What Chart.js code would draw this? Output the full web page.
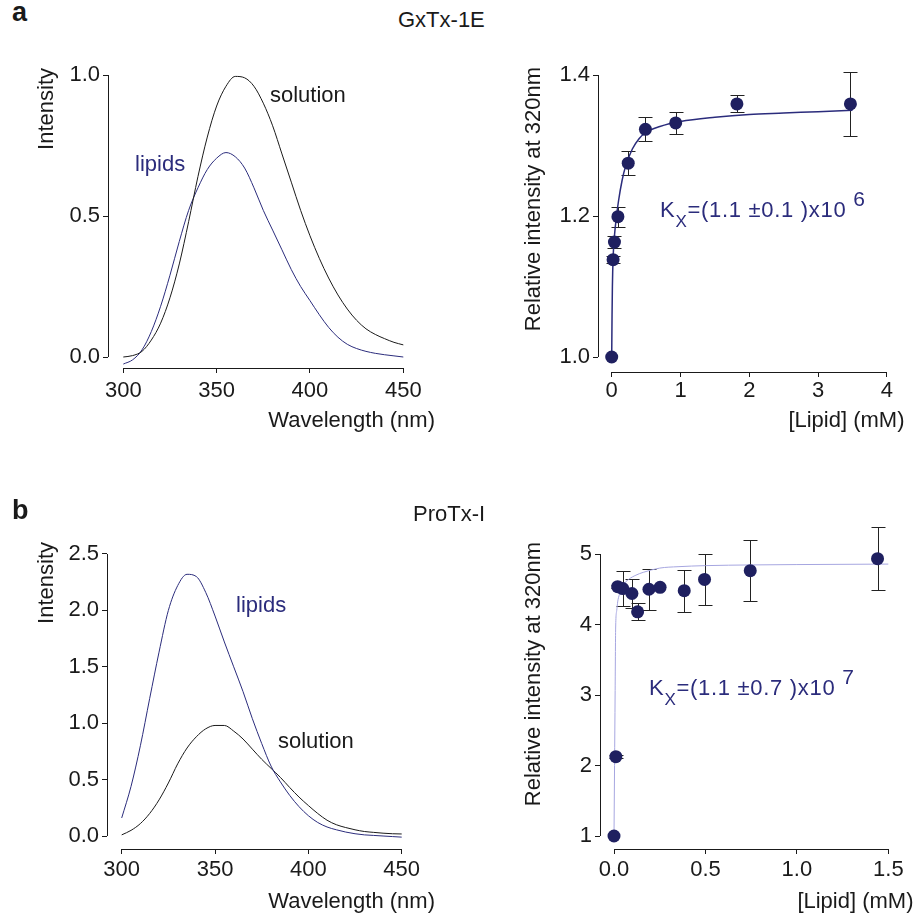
<!DOCTYPE html>
<html>
<head>
<meta charset="utf-8">
<title>GxTx-1E / ProTx-I lipid partitioning</title>
<script src="https://cdn.jsdelivr.net/npm/chart.js@4.4.1/dist/chart.umd.min.js"></script>
<style>
  html, body { margin: 0; padding: 0; background: #fff; }
  #fig { position: relative; width: 923px; height: 918px; overflow: hidden;
         font-family: "Liberation Sans", Arial, Helvetica, sans-serif; color: #1a1a1a; }
  #fig canvas { position: absolute; }
  .txt { position: absolute; font-size: 22px; line-height: 22px; white-space: nowrap; }
  .navy { color: #2b2c7c; }
  .kx { letter-spacing: 0.7px; }
  .panel { font-weight: bold; font-size: 27px; line-height: 27px; }
  .sub { font-size: 17px; position: relative; top: 10px; }
  .sup { font-size: 21px; position: relative; top: -11px; }
</style>
</head>
<body>
<div id="fig">
  <canvas id="gxSpec"></canvas>
  <canvas id="gxBind"></canvas>
  <canvas id="proSpec"></canvas>
  <canvas id="proBind"></canvas>

  <div class="txt panel" data-x="12" data-b="22">a</div>
  <div class="txt" data-x="398" data-b="28">GxTx-1E</div>
  <div class="txt" data-x="270" data-b="103">solution</div>
  <div class="txt navy" data-x="135" data-b="172">lipids</div>
  <div class="txt navy kx" data-x="660" data-b="218">K<span class="sub">X</span>=(1.1 ±0.1 )x10 <span class="sup">6</span></div>

  <div class="txt panel" data-x="12" data-b="520">b</div>
  <div class="txt" data-x="413" data-b="522">ProTx-I</div>
  <div class="txt navy" data-x="236" data-b="613">lipids</div>
  <div class="txt" data-x="278" data-b="749">solution</div>
  <div class="txt navy kx" data-x="649" data-b="696">K<span class="sub">X</span>=(1.1 ±0.7 )x10 <span class="sup">7</span></div>
</div>

<script>
'use strict';
/* ═══════════════════════════════════════════════
   Toxin fluorescence: emission spectra + lipid titration
   values
═══════════════════════════════════════════════ */

// emission spectra, sampled every 5 nm
const wavelength  = [300, 305, 310, 315, 320, 325, 330, 335, 340, 345, 350, 355, 360, 365, 370, 375,
                     380, 385, 390, 395, 400, 405, 410, 415, 420, 425, 430, 435, 440, 445, 450];
const gxSolution  = [0.00, 0.005, 0.02, 0.06, 0.12, 0.21, 0.33, 0.48, 0.64, 0.78, 0.89, 0.96, 0.995, 0.99, 0.96, 0.90,
                     0.82, 0.72, 0.62, 0.52, 0.43, 0.35, 0.28, 0.22, 0.17, 0.13, 0.10, 0.08, 0.065, 0.052, 0.043];
const gxLipids    = [-0.025, -0.01, 0.025, 0.09, 0.18, 0.29, 0.41, 0.52, 0.60, 0.665, 0.705, 0.725, 0.71, 0.67, 0.60, 0.52,
                     0.45, 0.38, 0.31, 0.25, 0.20, 0.15, 0.105, 0.07, 0.045, 0.03, 0.02, 0.013, 0.008, 0.004, 0.0];
const proSolution = [0.01, 0.05, 0.11, 0.20, 0.32, 0.47, 0.64, 0.78, 0.88, 0.95, 0.98, 0.98, 0.93, 0.86, 0.77, 0.68,
                     0.60, 0.52, 0.43, 0.345, 0.27, 0.20, 0.14, 0.10, 0.075, 0.055, 0.04, 0.032, 0.025, 0.02, 0.018];
const proLipids   = [0.16, 0.44, 0.80, 1.22, 1.63, 2.0, 2.22, 2.32, 2.30, 2.16, 1.95, 1.72, 1.50, 1.28, 1.04, 0.82,
                     0.62, 0.48, 0.36, 0.26, 0.18, 0.12, 0.08, 0.055, 0.035, 0.02, 0.01, 0.005, 0.0, -0.005, -0.01];

// GxTx-1E titration (relative intensity at 320 nm)
const gxLipid = [0, 0.02, 0.04, 0.09, 0.24, 0.49, 0.93, 1.82, 3.47];
const gxInt   = [1.0, 1.138, 1.163, 1.199, 1.275, 1.323, 1.332, 1.359, 1.359];
const gxErr   = [0, 0.005, 0.009, 0.014, 0.017, 0.017, 0.015, 0.012, 0.045];
const gxFitX  = [0, 0.005, 0.01, 0.02, 0.04, 0.07, 0.1, 0.15, 0.2, 0.3, 0.4, 0.5, 0.7, 1.0, 1.5, 2.0, 2.5, 3.0, 3.5];
const gxFitY  = [1.0, 1.06, 1.10, 1.14, 1.172, 1.20, 1.222, 1.25, 1.27, 1.295, 1.31, 1.319, 1.327, 1.334, 1.34, 1.344, 1.346, 1.348, 1.35];

// ProTx-I titration
const proLipid = [0, 0.01, 0.02, 0.048, 0.098, 0.129, 0.191, 0.252, 0.384, 0.495, 0.745, 1.441];
const proInt   = [1.0, 2.125, 4.537, 4.51, 4.44, 4.18, 4.50, 4.527, 4.48, 4.64, 4.764, 4.934];
const proErr   = [0, 0.02, 0.02, 0.25, 0.21, 0.12, 0.29, 0, 0.30, 0.36, 0.43, 0.45];
const proFitX  = [0, 0.003, 0.006, 0.009, 0.015, 0.02, 0.03, 0.05, 0.08, 0.12, 0.16, 0.25, 0.35, 0.5, 0.75, 1.0, 1.5];
const proFitY  = [1.0, 2.0, 3.0, 3.95, 4.2, 4.32, 4.43, 4.56, 4.64, 4.70, 4.74, 4.80, 4.82, 4.835, 4.845, 4.85, 4.857];

// tick labels
const specTicksX    = [300, 350, 400, 450];
const gxSpecTicksY  = [0, 0.5, 1.0];
const gxBindTicksX  = [0, 1, 2, 3, 4];
const gxBindTicksY  = [1.0, 1.2, 1.4];
const proSpecTicksY = [0, 0.5, 1.0, 1.5, 2.0, 2.5];
const proBindTicksX = [0, 0.5, 1.0, 1.5];
const proBindTicksY = [1, 2, 3, 4, 5];

const INK  = '#1a1a1a';
const NAVY = '#2b2c7c';
const DOT  = '#1f2060';
const FITB = '#a6a6e0';

Chart.defaults.font.family = '"Liberation Sans", Arial, Helvetica, sans-serif';
Chart.defaults.color = INK;

// page-pixel layout: canvas box, plot corner, and two reference ticks per axis [value, pixel, value, pixel]
const PAD_TOP = 20;
const LAYOUT = {
  gxSpec:  { left: 0,   top: 48,  right: 435, bottom: 440, plotL: 108, plotB: 368,
             xRef: [300, 123.3, 450, 403.3], yRef: [0, 357, 1, 75],    yTitle: 33.5, xTitle: 5.8, padX: 5 },
  gxBind:  { left: 460, top: 47,  right: 911, bottom: 440, plotL: 598, plotB: 372,
             xRef: [0, 612, 4, 893],         yRef: [1, 357, 1.4, 75],  yTitle: 60.8, xTitle: 5.8, padX: 1 },
  proSpec: { left: 0,   top: 522, right: 435, bottom: 918, plotL: 107, plotB: 849,
             xRef: [300, 121.7, 450, 401.7], yRef: [0, 836, 2.5, 554], yTitle: 33.5, xTitle: 2.8, padX: 3 },
  proBind: { left: 460, top: 522, right: 920, bottom: 918, plotL: 600, plotB: 849,
             xRef: [0, 614.3, 1.5, 894.3],   yRef: [1, 836, 5, 554],   yTitle: 60.8, xTitle: 2.8, padX: 3 }
};

function lin(ref, p) {
  const [v0, p0, v1, p1] = ref;
  return v0 + (p - p0) * (v1 - v0) / (p1 - p0);
}

function pairs(xs, ys) {
  return xs.map((x, i) => ({ x, y: ys[i] }));
}

// detached axis lines, only between the first and last tick
const axisLines = {
  id: 'axisLines',
  afterDraw(chart) {
    const { ctx, chartArea, scales: { x, y } } = chart;
    const xt = x.ticks, yt = y.ticks;
    const lx = Math.round(chartArea.left) + 0.5;
    const by = Math.round(chartArea.bottom) + 0.5;
    ctx.save();
    ctx.strokeStyle = INK;
    ctx.lineWidth = 1;
    ctx.beginPath();
    ctx.moveTo(lx, y.getPixelForValue(yt[0].value));
    ctx.lineTo(lx, y.getPixelForValue(yt[yt.length - 1].value));
    ctx.moveTo(x.getPixelForValue(xt[0].value), by);
    ctx.lineTo(x.getPixelForValue(xt[xt.length - 1].value), by);
    ctx.stroke();
    ctx.restore();
  }
};

// vertical error bars with caps, from dataset.errors
const errorBars = {
  id: 'errorBars',
  beforeDatasetsDraw(chart) {
    const { ctx, scales: { y } } = chart;
    chart.data.datasets.forEach((ds, i) => {
      if (!ds.errors) return;
      const meta = chart.getDatasetMeta(i);
      ctx.save();
      ctx.strokeStyle = '#222';
      ctx.lineWidth = 1;
      ctx.beginPath();
      meta.data.forEach((pt, j) => {
        const e = ds.errors[j];
        if (!e) return;
        const v = ds.data[j].y;
        const t = Math.round(y.getPixelForValue(v + e)) + 0.5;
        const b = Math.round(y.getPixelForValue(v - e)) + 0.5;
        const px = Math.round(pt.x) + 0.5;
        ctx.moveTo(px, t); ctx.lineTo(px, b);
        ctx.moveTo(px - 7, t); ctx.lineTo(px + 7, t);
        ctx.moveTo(px - 7, b); ctx.lineTo(px + 7, b);
      });
      ctx.stroke();
      ctx.restore();
    });
  }
};

function axis(dir, L, ticks, digits, title) {
  const isX = dir === 'x';
  return {
    type: 'linear',
    min: isX ? lin(L.xRef, L.plotL) : lin(L.yRef, L.plotB),
    max: isX ? lin(L.xRef, L.right) : lin(L.yRef, L.top + PAD_TOP),
    border: { display: false },
    grid: { display: true, drawOnChartArea: false, drawTicks: true, tickLength: 5, color: INK, lineWidth: 1 },
    afterBuildTicks: s => { s.ticks = ticks.map(v => ({ value: v })); },
    afterFit: s => {
      if (isX) s.height = L.bottom - L.plotB;
      else s.width = L.plotL - L.left;
    },
    ticks: {
      color: INK, font: { size: 22 }, padding: isX ? L.padX : 3,
      maxRotation: 0, autoSkip: false,
      callback: v => v.toFixed(digits)
    },
    title: {
      display: true, text: title, color: INK, font: { size: 22 }, align: 'end',
      padding: isX ? { top: 0, bottom: L.xTitle } : { top: L.yTitle, bottom: 0 }
    }
  };
}

function buildChart(id, datasets, ax, ay) {
  const L = LAYOUT[id];
  const cv = document.getElementById(id);
  const w = L.right - L.left, h = L.bottom - L.top;
  cv.width = w; cv.height = h;
  cv.style.left = L.left + 'px';  cv.style.top = L.top + 'px';
  cv.style.width = w + 'px';      cv.style.height = h + 'px';
  return new Chart(cv, {
    type: 'scatter',
    data: { datasets },
    options: {
      responsive: false, animation: false, events: [],
      layout: { padding: { top: PAD_TOP, left: 0, right: 0, bottom: 0 } },
      plugins: { legend: { display: false }, tooltip: { enabled: false } },
      scales: {
        x: axis('x', L, ax[0], ax[1], ax[2]),
        y: axis('y', L, ay[0], ay[1], ay[2])
      }
    },
    plugins: [errorBars, axisLines]
  });
}

function spectrum(xs, ys, color) {
  return { data: pairs(xs, ys), showLine: true, borderColor: color, borderWidth: 1,
           pointRadius: 0, cubicInterpolationMode: 'monotone' };
}

function points(xs, ys, errs) {
  return { data: pairs(xs, ys), errors: errs, pointRadius: 6.5, backgroundColor: DOT,
           borderWidth: 0, clip: false };
}

function fitLine(xs, ys, color, width) {
  return { data: pairs(xs, ys), showLine: true, borderColor: color, borderWidth: width,
           pointRadius: 0, cubicInterpolationMode: 'monotone', clip: false };
}

buildChart('gxSpec',
  [spectrum(wavelength, gxSolution, INK), spectrum(wavelength, gxLipids, NAVY)],
  [specTicksX, 0, 'Wavelength (nm)'], [gxSpecTicksY, 1, 'Intensity']);

buildChart('gxBind',
  [points(gxLipid, gxInt, gxErr), fitLine(gxFitX, gxFitY, NAVY, 1.5)],
  [gxBindTicksX, 0, '[Lipid] (mM)'], [gxBindTicksY, 1, 'Relative intensity at 320nm']);

buildChart('proSpec',
  [spectrum(wavelength, proLipids, NAVY), spectrum(wavelength, proSolution, INK)],
  [specTicksX, 0, 'Wavelength (nm)'], [proSpecTicksY, 1, 'Intensity']);

buildChart('proBind',
  [points(proLipid, proInt, proErr), fitLine(proFitX, proFitY, FITB, 1)],
  [proBindTicksX, 1, '[Lipid] (mM)'], [proBindTicksY, 0, 'Relative intensity at 320nm']);

// place html labels by their baseline
document.querySelectorAll('.txt').forEach(el => {
  const fs = parseFloat(getComputedStyle(el).fontSize);
  el.style.left = el.dataset.x + 'px';
  el.style.top = (el.dataset.b - 0.8465 * fs) + 'px';
});
</script>
</body>
</html>
